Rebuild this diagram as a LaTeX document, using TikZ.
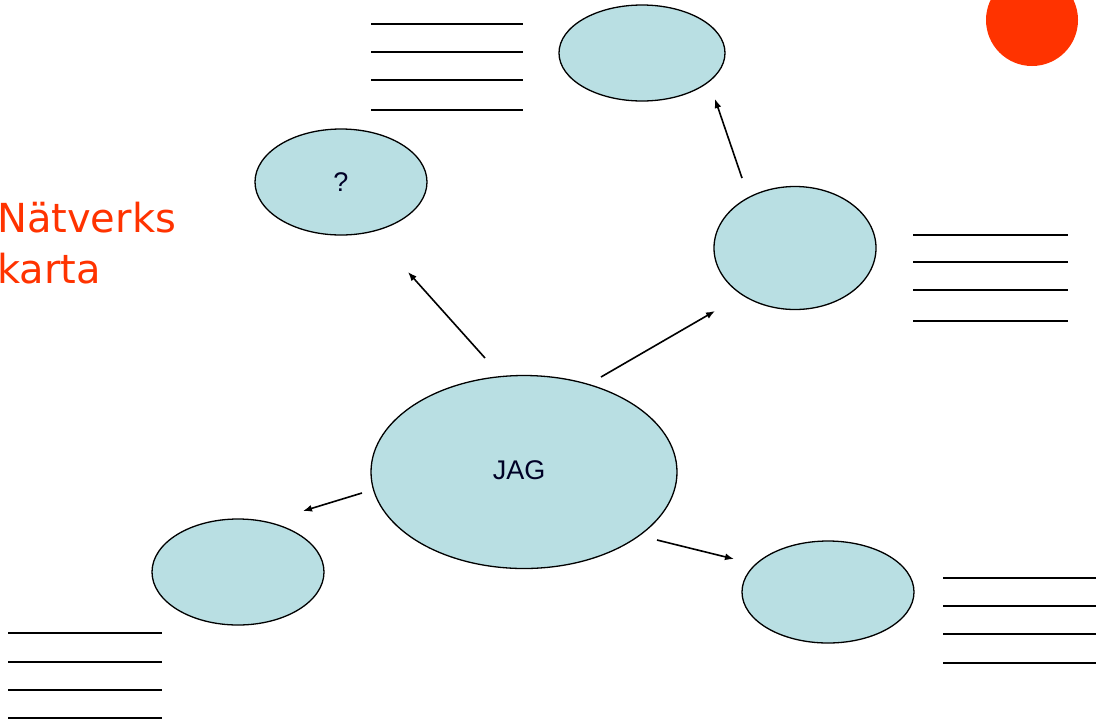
\documentclass[tikz,border=0pt]{standalone}
\usepackage{fontspec}
\setmainfont{Liberation Sans}
\newfontfamily\titlefont{DejaVu Sans}
\usetikzlibrary{arrows.meta,shapes.geometric}
\definecolor{bubble}{HTML}{B9DFE3}
\definecolor{titlered}{HTML}{FF3300}
\tikzset{
  bubblenode/.style={ellipse, draw=black, line width=1.3pt, fill=bubble, inner sep=0pt},
  rule/.style={line width=1.8pt, black},
  conn/.style={line width=1.6pt, black, -{Latex[length=9pt,width=7pt]}},
  lbl/.style={font=\fontsize{27}{27}\selectfont, text=black!85!blue}
}
\begin{document}
\begin{tikzpicture}[x=1pt,y=-1pt]
\useasboundingbox (0,0) rectangle (1097,724);
\fill[white] (0,0) rectangle (1097,724);
% red dot
\fill[titlered] (1032,20) circle (46);
% bubbles
\node[bubblenode, minimum width=166pt, minimum height=96pt] (top) at (642,53) {};
\node[bubblenode, minimum width=172pt, minimum height=106pt] (q) at (341,182) {};
\node[bubblenode, minimum width=162pt, minimum height=123pt] (right) at (795,248) {};
\node[bubblenode, minimum width=306pt, minimum height=193pt] (jag) at (524,472) {};
\node[bubblenode, minimum width=172pt, minimum height=106pt] (lb) at (238,572) {};
\node[bubblenode, minimum width=172pt, minimum height=102pt] (rb) at (828,592) {};
\node[lbl] (qt) at (341,182) {?};
\node[lbl] (jagt) at (519,470) {JAG};
% title
\node[anchor=base west, inner sep=0pt, text=titlered, font=\titlefont\fontsize{40}{51}\selectfont] (title1) at (-3,232) {Nätverks};
\node[anchor=base west, inner sep=0pt, text=titlered, font=\titlefont\fontsize{40}{51}\selectfont] (title2) at (-3,283) {karta};
% lines
\foreach \y in {24,52,80,110} \draw[rule] (371,\y) -- (523,\y);
\foreach \y in {235,262,290,321} \draw[rule] (913,\y) -- (1068,\y);
\foreach \y in {633,662,690,718} \draw[rule] (8,\y) -- (162,\y);
\foreach \y in {578,606,634,663} \draw[rule] (943,\y) -- (1096,\y);
% connectors
\coordinate (a1s) at (485,358); \coordinate (a1e) at (408,272);
\coordinate (a2s) at (601,377); \coordinate (a2e) at (715,311);
\coordinate (a3s) at (742,178); \coordinate (a3e) at (715,99);
\coordinate (a4s) at (362,493); \coordinate (a4e) at (303,511);
\coordinate (a5s) at (657,540); \coordinate (a5e) at (734,559);
\draw[conn] (a1s) -- (a1e);
\draw[conn] (a2s) -- (a2e);
\draw[conn] (a3s) -- (a3e);
\draw[conn] (a4s) -- (a4e);
\draw[conn] (a5s) -- (a5e);
\end{tikzpicture}
\end{document}
